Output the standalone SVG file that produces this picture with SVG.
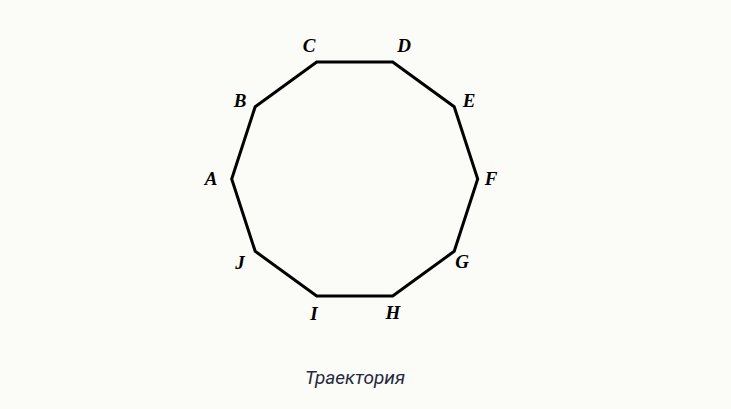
<svg xmlns="http://www.w3.org/2000/svg" width="731" height="409" viewBox="0 0 731 409">
<style>
.lbl{font-family:"Liberation Serif","Times New Roman",serif;font-weight:bold;font-style:italic;font-size:19px;fill:#000;text-anchor:middle}
.cap{font-family:Roboto,"Noto Sans",sans-serif;font-style:italic;font-size:19px;fill:#252840;text-anchor:middle}
</style>
<rect width="731" height="409" fill="#fbfbf8"/>
<g id="connectors">
<polygon points="231.7,179 255.2,106.7 316.7,62 392.7,62 454.2,106.7 477.7,179 454.2,251.3 392.7,296 316.7,296 255.2,251.3" fill="none" stroke="#000" stroke-width="3" stroke-linejoin="miter"/>
</g>
<g id="A"><text class="lbl" x="211" y="185">A</text></g>
<g id="B"><text class="lbl" x="240" y="107">B</text></g>
<g id="C"><text class="lbl" x="309" y="52">C</text></g>
<g id="D"><text class="lbl" x="404" y="52">D</text></g>
<g id="E"><text class="lbl" x="469" y="107">E</text></g>
<g id="F"><text class="lbl" x="491" y="185">F</text></g>
<g id="G"><text class="lbl" x="462" y="268">G</text></g>
<g id="H"><text class="lbl" x="393" y="319">H</text></g>
<g id="I"><text class="lbl" x="314" y="320">I</text></g>
<g id="J"><text class="lbl" x="240" y="269">J</text></g>
<text class="cap" x="355" y="384">Траектория</text>
</svg>
